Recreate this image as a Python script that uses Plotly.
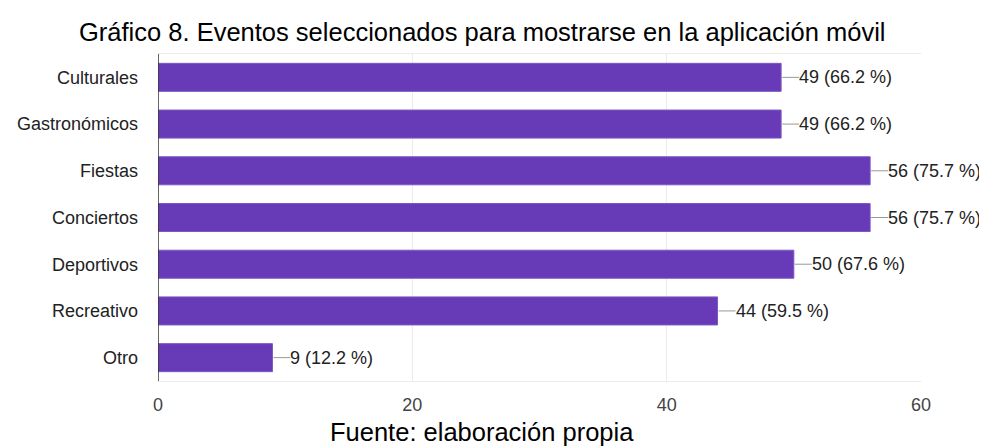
import plotly.graph_objects as go

categories = ["Culturales", "Gastronómicos", "Fiestas", "Conciertos", "Deportivos", "Recreativo", "Otro"]
values = [49, 49, 56, 56, 50, 44, 9]
percents = ["66.2", "66.2", "75.7", "75.7", "67.6", "59.5", "12.2"]
x_ticks = [0, 20, 40, 60]

FONT = "Liberation Sans, Arial"

fig = go.Figure()
fig.add_trace(go.Bar(
    y=categories, x=values, orientation="h",
    marker=dict(color="#673ab7", line=dict(color="#7e57c2", width=1)),
    width=0.6, hoverinfo="skip",
))

for c, v, p in zip(categories, values, percents):
    fig.add_shape(type="line", xref="x", yref="y", xsizemode="pixel", xanchor=v,
                  x0=1, x1=18, y0=c, y1=c, line=dict(color="#999999", width=1))
    fig.add_annotation(x=v, y=c, xref="x", yref="y", text=f"{v} ({p} %)",
                       showarrow=False, xanchor="left", xshift=16,
                       font=dict(family=FONT, size=18, color="#222222"))

fig.add_annotation(text="Gráfico 8. Eventos seleccionados para mostrarse en la aplicación móvil",
                   xref="paper", yref="paper", x=0.4246, y=1, yshift=22, xanchor="center", yanchor="middle",
                   showarrow=False, font=dict(family=FONT, size=25.5, color="#000000"))
fig.add_annotation(text="Fuente: elaboración propia",
                   xref="paper", yref="paper", x=0.4246, y=0, yshift=-51, xanchor="center", yanchor="middle",
                   showarrow=False, font=dict(family=FONT, size=25.5, color="#000000"))

fig.update_layout(
    width=979, height=438,
    margin=dict(l=150, r=66, t=46, b=65, autoexpand=False),
    paper_bgcolor="white", plot_bgcolor="white",
    showlegend=False,
    font=dict(family=FONT, size=19, color="#222222"),
    xaxis=dict(range=[0, 60], tickvals=x_ticks, showgrid=True, gridcolor="#ebebeb",
               zeroline=False, showline=True, linecolor="#ebebeb", mirror=True, automargin=False,
               ticks="", ticklabelstandoff=7, tickfont=dict(size=18, color="#444444")),
    yaxis=dict(categoryorder="array", categoryarray=categories[::-1], showgrid=False,
               zeroline=False, showline=False, ticks="", ticklabelstandoff=19, automargin=False,
               tickfont=dict(size=18, color="#222222")),
)
fig.add_shape(type="line", xref="x", yref="paper", x0=0, x1=0, y0=0, y1=1,
              line=dict(color="#333333", width=1.5))

fig.write_html("out.html")
